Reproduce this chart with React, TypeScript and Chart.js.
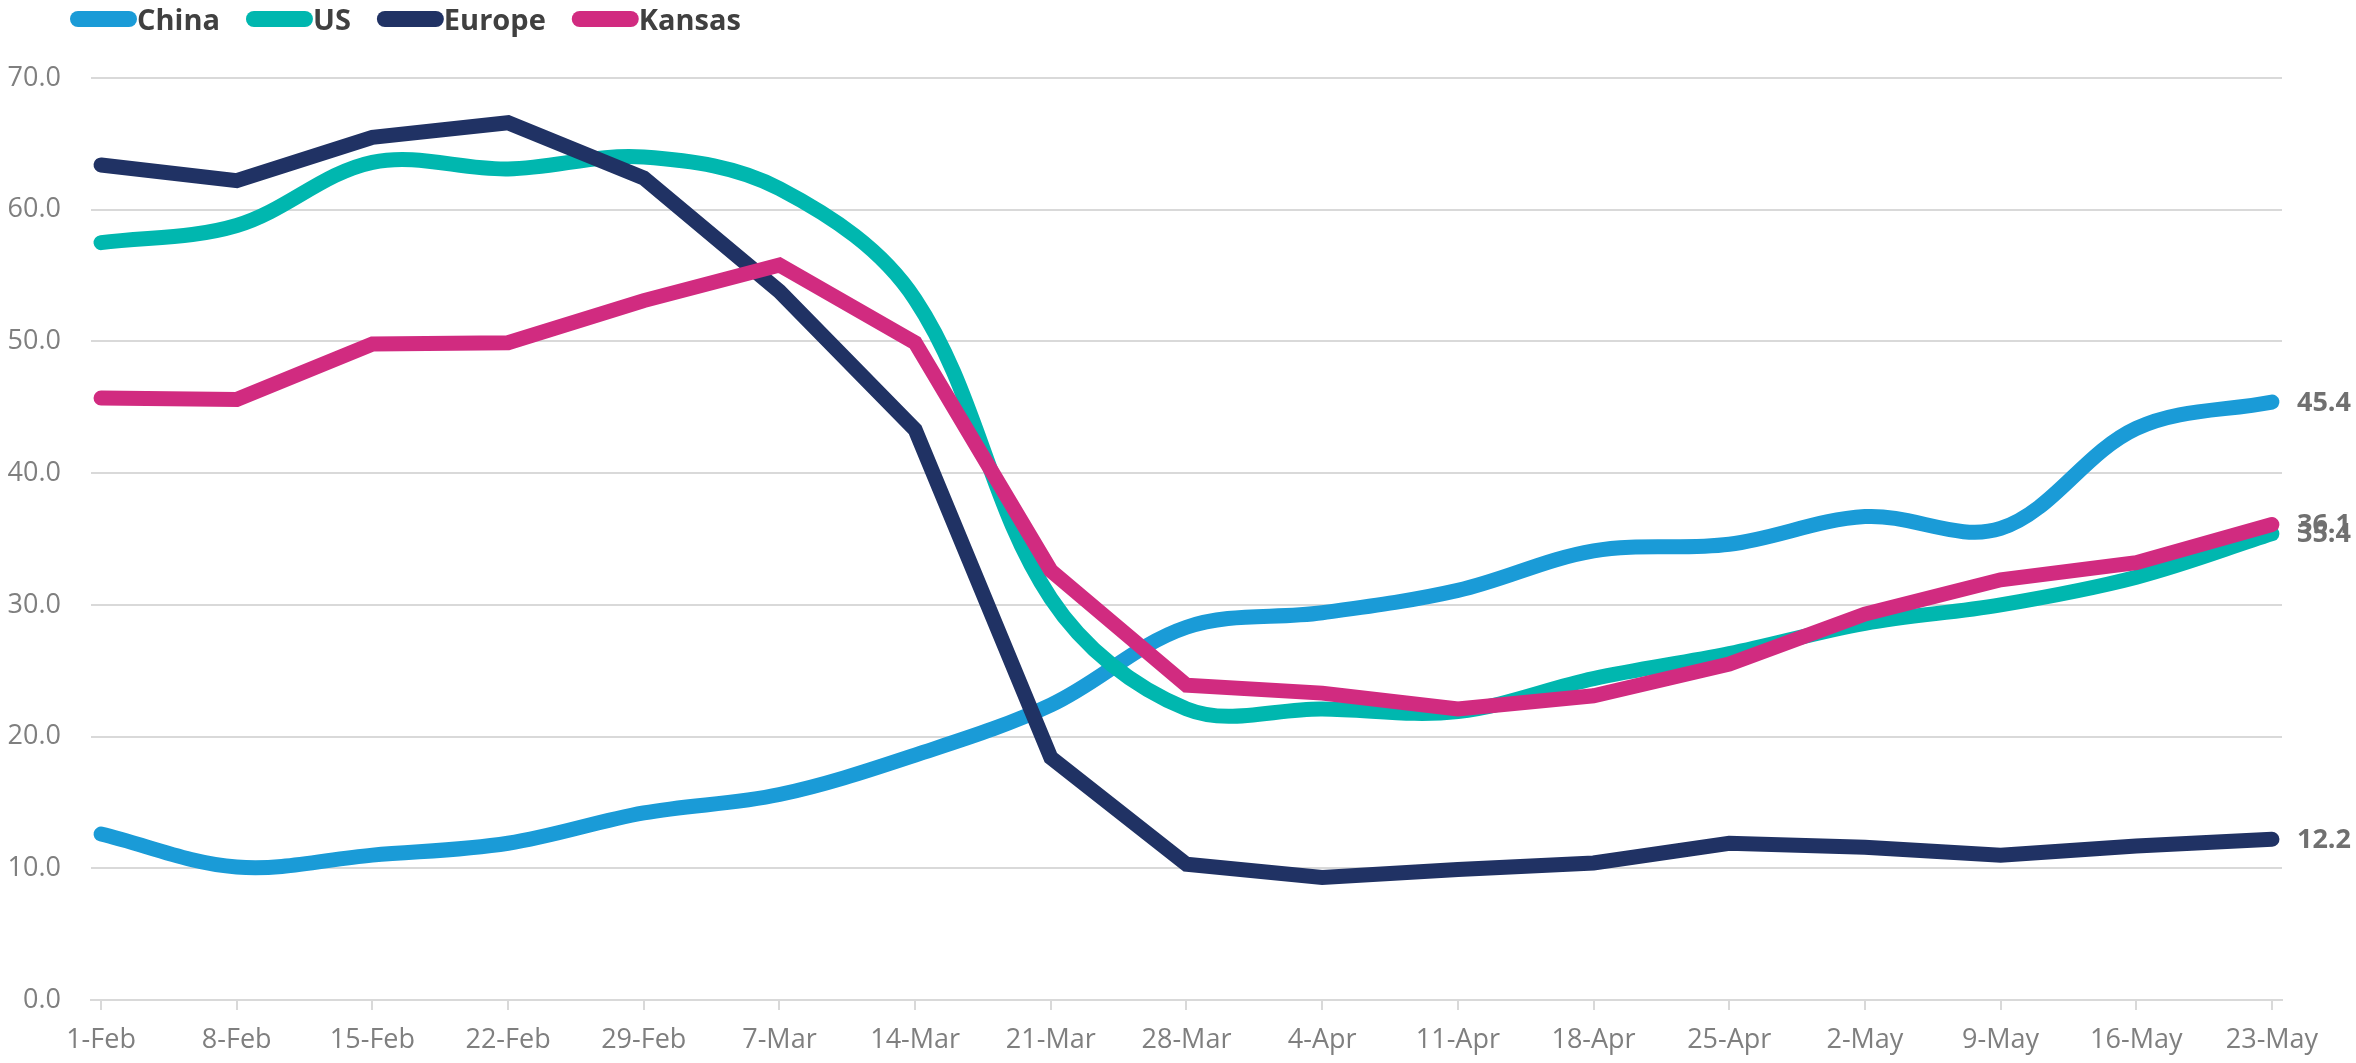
import React, { useEffect, useRef } from "react";
import { Chart, registerables } from "chart.js";

Chart.register(...registerables);

const categories = [
  "1-Feb", "8-Feb", "15-Feb", "22-Feb", "29-Feb", "7-Mar", "14-Mar", "21-Mar", "28-Mar",
  "4-Apr", "11-Apr", "18-Apr", "25-Apr", "2-May", "9-May", "16-May", "23-May",
];
const chinaValues = [12.6, 10.1, 11.0, 11.9, 14.2, 15.6, 18.6, 22.4, 28.3, 29.4, 31.1, 34.1, 34.6, 36.7, 35.8, 43.4, 45.4];
const usValues = [57.5, 58.8, 63.6, 63.1, 64.0, 61.6, 53.2, 30.5, 22.1, 22.1, 21.9, 24.4, 26.3, 28.6, 30.0, 32.1, 35.4];
const europeValues = [63.4, 62.2, 65.5, 66.6, 62.4, 53.8, 43.3, 18.4, 10.3, 9.3, 9.9, 10.4, 11.9, 11.6, 11.0, 11.7, 12.2];
const kansasValues = [45.7, 45.6, 49.8, 49.9, 53.1, 55.8, 49.9, 32.6, 23.9, 23.3, 22.1, 23.1, 25.5, 29.3, 31.9, 33.2, 36.1];

const seriesNames = ["China", "US", "Europe", "Kansas"];
const seriesColors = ["#1a9bd7", "#00b7af", "#203264", "#d12b80"];
const seriesTension = [0.35, 0.35, 0, 0];
const seriesOrder = [3, 2, 1, 0];

const yMin = 0;
const yMax = 70;
const yStep = 10;
const xPad = 0.074;

const FONT = "'Open Sans', 'DejaVu Sans', sans-serif";

const legendPlugin = {
  id: "customLegend",
  afterDraw(chart: any) {
    const ctx = chart.ctx;
    ctx.save();
    ctx.font = `bold 29px ${FONT}`;
    ctx.textBaseline = "alphabetic";
    let x = 70;
    chart.data.datasets.forEach((ds: any) => {
      ctx.fillStyle = ds.borderColor;
      ctx.beginPath();
      ctx.roundRect(x, 11, 67, 16, 8);
      ctx.fill();
      x += 67;
      ctx.fillStyle = "#404040";
      ctx.fillText(ds.label, x, 30);
      x += ctx.measureText(ds.label).width + 26;
    });
    ctx.restore();
  },
};

const endLabelPlugin = {
  id: "endLabels",
  afterDatasetsDraw(chart: any) {
    const ctx = chart.ctx;
    ctx.save();
    ctx.font = `bold 27px ${FONT}`;
    ctx.fillStyle = "#707070";
    ctx.textAlign = "left";
    ctx.textBaseline = "middle";
    chart.data.datasets.forEach((ds: any, i: number) => {
      const meta = chart.getDatasetMeta(i);
      const pt = meta.data[meta.data.length - 1];
      const last = ds.data[ds.data.length - 1];
      if (pt) ctx.fillText(Number(last.y).toFixed(1), pt.x + 25, pt.y + 1);
    });
    ctx.restore();
  },
};

export default function App() {
  const canvasRef = useRef<HTMLCanvasElement | null>(null);

  useEffect(() => {
    if (!canvasRef.current) return;
    const allValues = [chinaValues, usValues, europeValues, kansasValues];
    const chart = new Chart(canvasRef.current, {
      type: "line",
      data: {
        datasets: allValues.map((vals, i) => ({
          label: seriesNames[i],
          data: vals.map((v, j) => ({ x: j, y: v })),
          borderColor: seriesColors[i],
          backgroundColor: seriesColors[i],
          borderWidth: 15,
          borderCapStyle: "round" as const,
          borderJoinStyle: "miter" as const,
          tension: seriesTension[i],
          pointRadius: 0,
          pointHoverRadius: 0,
          fill: false,
          order: seriesOrder[i],
        })),
      },
      options: {
        animation: false,
        responsive: true,
        maintainAspectRatio: false,
        layout: { padding: { top: 78, right: 74, bottom: 0, left: 0 } },
        plugins: {
          legend: { display: false },
          tooltip: { enabled: false },
        },
        scales: {
          x: {
            type: "linear",
            min: -xPad,
            max: categories.length - 1 + xPad,
            grid: {
              drawOnChartArea: false,
              drawTicks: true,
              tickLength: 10,
              color: "#d9d9d9",
              lineWidth: 2,
            },
            border: { display: true, color: "#d9d9d9", width: 2 },
            afterBuildTicks: (scale: any) => {
              scale.ticks = categories.map((_, i) => ({ value: i }));
            },
            ticks: {
              color: "#7f7f7f",
              font: { family: FONT, size: 27 },
              padding: 14,
              maxRotation: 0,
              autoSkip: false,
              callback: (v: any) => categories[Math.round(Number(v))] ?? "",
            },
            afterFit: (s: any) => {
              s.height = 63;
            },
          },
          y: {
            min: yMin,
            max: yMax,
            ticks: {
              stepSize: yStep,
              color: "#7f7f7f",
              font: { family: FONT, size: 27 },
              padding: 30,
              callback: (v: any) => Number(v).toFixed(1),
            },
            grid: { color: "#d9d9d9", lineWidth: 2, drawTicks: false },
            border: { display: false },
            afterFit: (s: any) => {
              s.width = 91;
            },
          },
        },
      },
      plugins: [legendPlugin, endLabelPlugin],
    } as any);
    return () => chart.destroy();
  }, []);

  return (
    <div
      style={{
        position: "fixed",
        left: 0,
        top: 0,
        width: 2356,
        height: 1063,
        background: "#ffffff",
      }}
    >
      <canvas ref={canvasRef} />
    </div>
  );
}
